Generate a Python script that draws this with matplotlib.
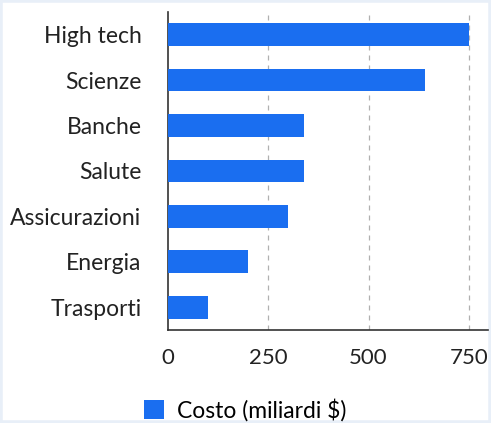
import matplotlib.pyplot as plt
from matplotlib.patches import Rectangle

categories = ['High tech', 'Scienze', 'Banche', 'Salute', 'Assicurazioni', 'Energia', 'Trasporti']
costs = [750, 640, 340, 340, 300, 200, 100]
xticks = [0, 250, 500, 750]
series_name = 'Costo (miliardi $)'

bar_color = '#1a6ef0'
plt.rcParams['font.family'] = ['Lato', 'DejaVu Sans']

fig = plt.figure(figsize=(4.91, 4.23), dpi=100)
fig.set_facecolor('white')
ax = fig.add_axes([0.342, 0.22, 0.652, 0.752])
ax.patch.set_alpha(0.0)

ypos = list(range(len(categories)))
ax.barh(ypos, costs, height=0.5, color=bar_color, label=series_name, zorder=3)
ax.set_ylim(len(categories) - 0.5, -0.5)
ax.set_xlim(0, 798)
ax.set_yticks(ypos)
ax.set_yticklabels(categories, fontsize=16.5, color='#222222')
ax.set_xticks(xticks)
ax.set_xticklabels([str(t) for t in xticks], fontsize=16, color='#222222')
ax.tick_params(axis='y', length=0, pad=19)
ax.tick_params(axis='x', length=0, pad=13)

for t in xticks[1:]:
    ax.axvline(t, color='#b0b0b0', linestyle=(0, (4, 4)), linewidth=0.9, zorder=1)

for s in ['top', 'right']:
    ax.spines[s].set_visible(False)
for s in ['left', 'bottom']:
    ax.spines[s].set_color('#333333')
    ax.spines[s].set_linewidth(1.2)

fig.legend(loc='lower center', bbox_to_anchor=(0.5, -0.045), frameon=False,
           fontsize=16.5, handlelength=0.85, handleheight=0.85, handletextpad=0.6)

# faint blue frame around the picture, kept under the texts
fig.patches.append(Rectangle((0, 0), 1, 1, transform=fig.transFigure, fill=False,
                             edgecolor='#e8eff8', linewidth=4, zorder=-1))

fig.savefig('out.png', dpi=100, facecolor='white')
